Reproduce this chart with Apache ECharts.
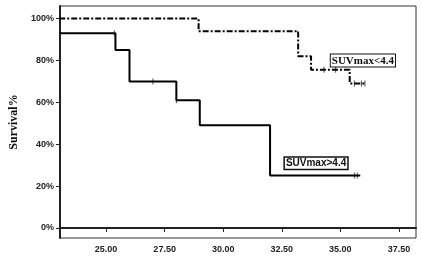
<!DOCTYPE html>
<html>
<head>
<meta charset="utf-8">
<script src="https://cdn.jsdelivr.net/npm/echarts@6/dist/echarts.min.js"></script>
<style>
  html, body { margin: 0; padding: 0; background: #fff; }
  #main { width: 421px; height: 272px; }
</style>
</head>
<body>
<div id="main"></div>
<script>
// 刻度
var xTicks = [25, 27.5, 30, 32.5, 35, 37.5];
var yTicks = [0, 0.2, 0.4, 0.6, 0.8, 1.0];

// SUVmax>4.4 (实线)
var highTimes = [23, 25.4, 26.0, 28.0, 29.0, 32.0, 35.85];
var highSurv = [0.93, 0.85, 0.70, 0.61, 0.49, 0.25, 0.25];
var highCensorT = [25.35, 27.0, 28.0, 35.6, 35.72];
var highCensorS = [0.93, 0.70, 0.61, 0.25, 0.25];

// SUVmax<4.4 (点划线)
var lowTimes = [23, 28.95, 33.2, 33.75, 35.4, 36.1];
var lowSurv = [1.0, 0.94, 0.82, 0.755, 0.69, 0.69];
var lowCensorT = [34.3, 34.8, 35.6, 35.9, 36.05];
var lowCensorS = [0.755, 0.755, 0.69, 0.69, 0.69];

function pairs (xs, ys) {
  return xs.map(function (x, i) { return [x, ys[i]]; });
}

var chart = echarts.init(document.getElementById('main'));

var option = {
  animation: false,
  grid: {
    left: 55, right: 5, top: 6, bottom: 34,
    show: true,
    borderColor: '#333',
    borderWidth: 1
  },
  xAxis: {
    type: 'value',
    min: 23.03,
    max: 38.23,
    splitLine: { show: false },
    axisLine: { lineStyle: { color: '#222', width: 2 } },
    axisTick: { show: true, length: 4, customValues: xTicks, lineStyle: { color: '#222' } },
    axisLabel: {
      customValues: xTicks,
      color: '#222',
      fontFamily: 'Liberation Sans',
      fontWeight: 'bold',
      fontSize: 9,
      margin: 7,
      formatter: function (v) { return v.toFixed(2); }
    }
  },
  yAxis: {
    type: 'value',
    min: -0.048,
    max: 1.06,
    name: 'Survival%',
    nameLocation: 'middle',
    nameGap: 26,
    nameTextStyle: {
      fontFamily: 'Liberation Serif',
      fontWeight: 'bold',
      fontSize: 12,
      color: '#111'
    },
    splitLine: { show: false },
    axisLine: { lineStyle: { color: '#222', width: 2 } },
    axisTick: { show: true, length: 4, customValues: yTicks, lineStyle: { color: '#222' } },
    axisLabel: {
      customValues: yTicks,
      color: '#222',
      fontFamily: 'Liberation Sans',
      fontWeight: 'bold',
      fontSize: 9,
      margin: 6,
      formatter: function (v) { return Math.round(v * 100) + '%'; }
    }
  },
  series: [
    {
      name: 'SUVmax>4.4',
      type: 'line',
      step: 'end',
      symbol: 'none',
      clip: true,
      lineStyle: { color: '#000', width: 2 },
      data: pairs(highTimes, highSurv)
    },
    {
      name: 'SUVmax<4.4',
      type: 'line',
      step: 'end',
      symbol: 'none',
      clip: true,
      lineStyle: { color: '#000', width: 2, type: [6, 2, 2, 2] },
      data: pairs(lowTimes, lowSurv)
    },
    {
      type: 'scatter',
      symbol: 'rect',
      symbolSize: [1, 6],
      itemStyle: { color: '#222' },
      data: pairs(highCensorT, highCensorS)
    },
    {
      type: 'scatter',
      symbol: 'rect',
      symbolSize: [1, 6],
      itemStyle: { color: '#222' },
      data: pairs(lowCensorT, lowCensorS)
    }
  ]
};

chart.setOption(option);

// 图例标签
var pLow = chart.convertToPixel({ gridIndex: 0 }, [34.55, 0.80]);
var pHigh = chart.convertToPixel({ gridIndex: 0 }, [32.57, 0.314]);
chart.setOption({
  graphic: [
    {
      type: 'text',
      left: pLow[0],
      top: pLow[1] - 7,
      style: {
        text: 'SUVmax<4.4',
        fontFamily: 'Liberation Serif',
        fontWeight: 'bold',
        fontSize: 11,
        fill: '#111',
        backgroundColor: '#fff',
        borderColor: '#111',
        borderWidth: 1,
        padding: [1, 1, 0, 1]
      }
    },
    {
      type: 'text',
      left: pHigh[0],
      top: pHigh[1] - 6,
      style: {
        text: 'SUVmax>4.4',
        fontFamily: 'Liberation Sans',
        fontWeight: 'bold',
        fontSize: 10,
        fill: '#111',
        backgroundColor: '#fff',
        borderColor: '#111',
        borderWidth: 1.5,
        padding: [1, 1, 0, 1]
      }
    }
  ]
});
</script>
</body>
</html>
